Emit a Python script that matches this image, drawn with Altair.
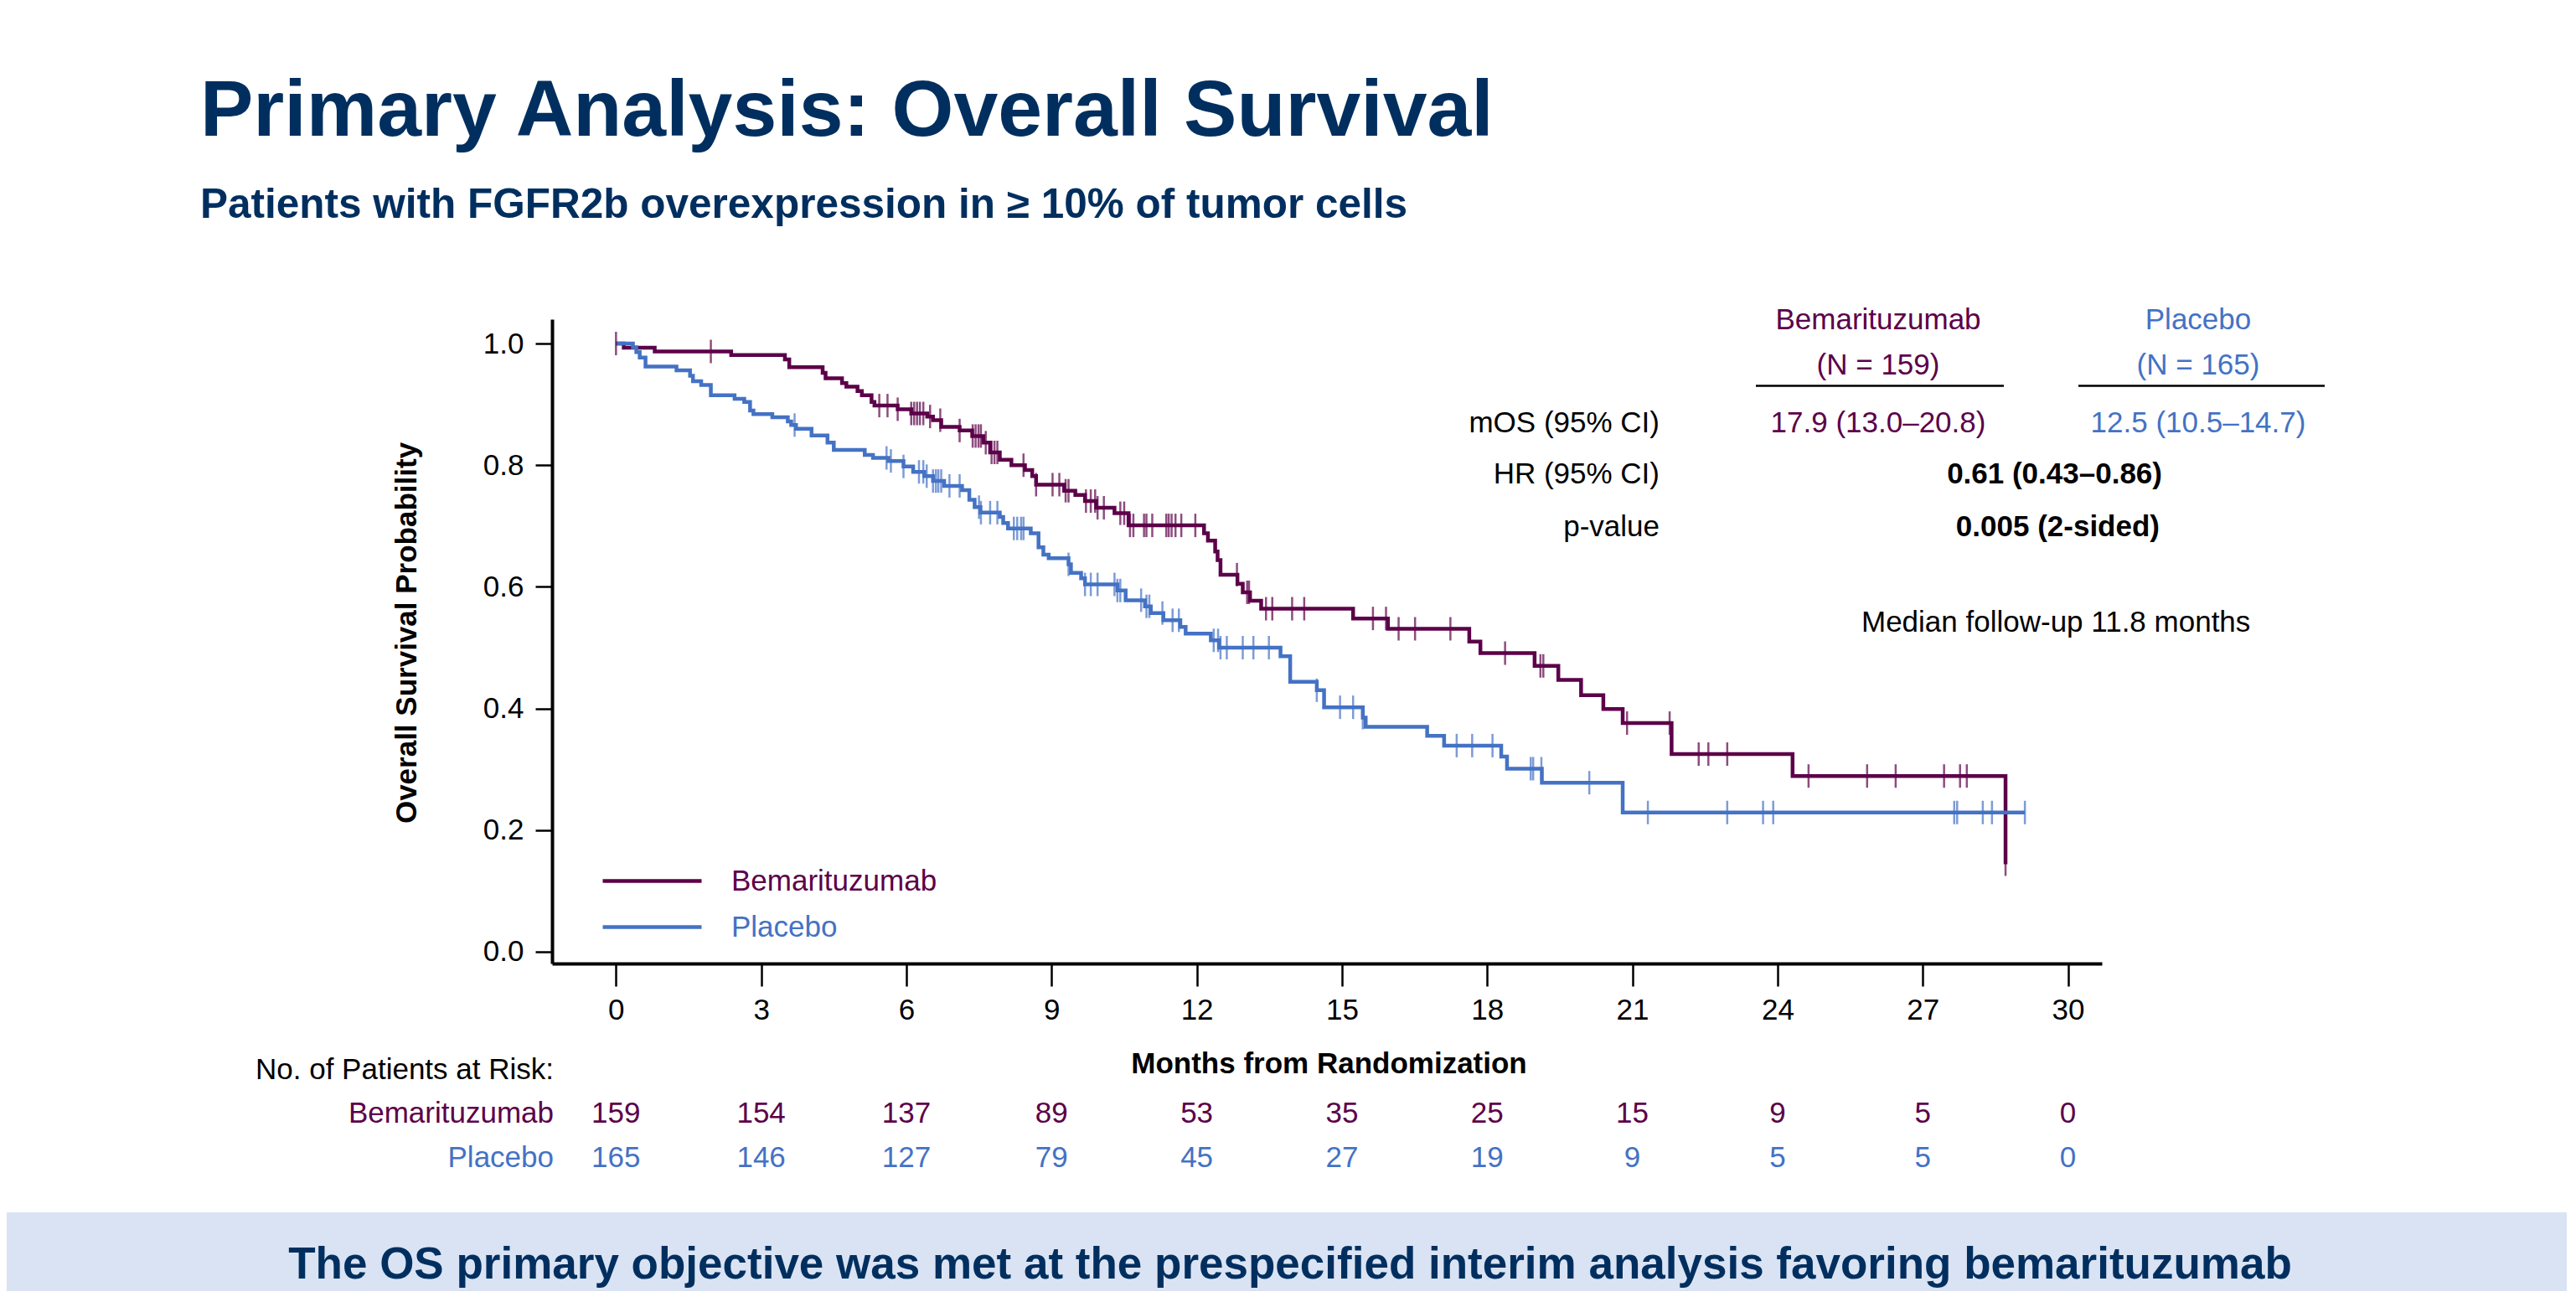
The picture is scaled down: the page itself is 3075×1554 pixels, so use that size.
import altair as alt
import pandas as pd

FONT = "Liberation Sans"
PURPLE = "#5C0049"
BLUE = "#4472C4"
NAVY = "#002F5F"
BANNER = "#DAE3F3"

ARMS = ["Bemarituzumab", "Placebo"]

# Kaplan-Meier step points (months, survival probability after the step)
bema_t = [0, 0.16, 0.80, 2.38, 3.49, 3.58, 4.27, 4.33, 4.67, 4.76, 4.99, 5.08, 5.28, 5.34,
          5.82, 6.10, 6.43, 6.55, 6.72, 7.10, 7.36, 7.59, 7.73, 7.93, 8.17, 8.45, 8.60, 8.68,
          9.26, 9.49, 9.69, 9.92, 10.30, 10.59, 12.15, 12.23, 12.38, 12.43, 12.49, 12.84, 12.95,
          13.10, 13.33, 15.23, 15.95, 17.63, 17.86, 18.98, 19.47, 19.94, 20.40, 20.80, 21.81,
          24.31, 28.71]
bema_s = [1.0, 0.993, 0.987, 0.981, 0.974, 0.961, 0.952, 0.943, 0.935, 0.929, 0.922, 0.915,
          0.904, 0.898, 0.892, 0.885, 0.880, 0.874, 0.863, 0.857, 0.848, 0.837, 0.821, 0.809,
          0.800, 0.792, 0.782, 0.768, 0.758, 0.751, 0.741, 0.730, 0.721, 0.701, 0.688, 0.676,
          0.658, 0.644, 0.620, 0.605, 0.591, 0.577, 0.564, 0.548, 0.531, 0.510, 0.491, 0.470,
          0.447, 0.422, 0.399, 0.376, 0.325, 0.289, 0.144]

plac_t = [0, 0.35, 0.42, 0.49, 0.61, 1.25, 1.53, 1.59, 1.76, 1.96, 2.45, 2.65, 2.77, 2.84,
          3.23, 3.55, 3.62, 3.72, 4.04, 4.37, 4.50, 5.14, 5.31, 5.63, 5.94, 6.14, 6.37, 6.55,
          6.78, 7.15, 7.30, 7.41, 7.53, 7.93, 8.00, 8.10, 8.57, 8.73, 8.83, 8.94, 9.35, 9.40,
          9.61, 9.69, 10.36, 10.53, 10.93, 11.05, 11.31, 11.66, 11.77, 12.29, 12.46, 13.73,
          13.93, 14.48, 14.63, 15.43, 15.49, 16.76, 17.11, 18.29, 18.41, 19.13, 20.80, 29.11]
plac_s = [1.0, 0.994, 0.986, 0.977, 0.962, 0.956, 0.947, 0.938, 0.932, 0.915, 0.909, 0.904,
          0.890, 0.884, 0.879, 0.872, 0.866, 0.860, 0.849, 0.837, 0.825, 0.817, 0.812, 0.807,
          0.798, 0.789, 0.782, 0.774, 0.766, 0.759, 0.743, 0.731, 0.722, 0.715, 0.705, 0.696,
          0.688, 0.665, 0.653, 0.647, 0.637, 0.623, 0.614, 0.604, 0.594, 0.578, 0.568, 0.557,
          0.545, 0.534, 0.523, 0.512, 0.500, 0.486, 0.444, 0.430, 0.402, 0.385, 0.370, 0.355,
          0.339, 0.321, 0.301, 0.278, 0.229, 0.229]

# Censoring times (months)
bema_c = [0.0, 1.96, 5.44, 5.61, 5.82, 6.10, 6.16, 6.22, 6.28, 6.35, 6.49, 6.70, 7.10, 7.37,
          7.43, 7.49, 7.54, 7.64, 7.76, 7.82, 7.88, 8.42, 8.68, 9.02, 9.16, 9.29, 9.35, 9.71,
          9.81, 9.90, 9.95, 10.08, 10.42, 10.50, 10.62, 10.69, 10.91, 10.96, 11.08, 11.37,
          11.42, 11.48, 11.56, 11.68, 11.97, 12.83, 13.04, 13.08, 13.43, 13.56, 13.97, 14.22,
          15.64, 15.91, 16.17, 16.51, 17.24, 18.37, 19.10, 19.16, 20.89, 21.77, 22.37, 22.57,
          22.96, 24.64, 25.85, 26.44, 27.44, 27.77, 27.91, 28.71]
plac_c = [3.69, 5.59, 5.68, 5.94, 6.26, 6.35, 6.42, 6.55, 6.61, 6.66, 6.72, 6.89, 7.10, 7.50,
          7.54, 7.73, 7.88, 8.22, 8.29, 8.37, 8.42, 9.35, 9.69, 9.81, 9.95, 10.30, 10.36, 10.42,
          10.85, 10.96, 11.02, 11.29, 11.50, 11.63, 12.35, 12.44, 12.49, 12.62, 12.95, 13.17,
          13.49, 14.48, 14.96, 15.23, 15.43, 17.37, 17.69, 18.11, 18.90, 18.95, 19.12, 20.11,
          21.32, 22.96, 23.70, 23.91, 27.65, 27.71, 28.24, 28.43, 29.11]

# Number at risk
risk_months = [0, 3, 6, 9, 12, 15, 18, 21, 24, 27, 30]
risk_bema = [159, 154, 137, 89, 53, 35, 25, 15, 9, 5, 0]
risk_plac = [165, 146, 127, 79, 45, 27, 19, 9, 5, 5, 0]

x_ticks = [0, 3, 6, 9, 12, 15, 18, 21, 24, 27, 30]
y_ticks = [0.0, 0.2, 0.4, 0.6, 0.8, 1.0]


def lookup(times, survs, t):
    v = survs[0]
    for tt, ss in zip(times, survs):
        if tt <= t + 1e-9:
            v = ss
        else:
            break
    return v


curve_df = pd.DataFrame(
    [{"arm": ARMS[0], "month": t, "surv": s} for t, s in zip(bema_t, bema_s)]
    + [{"arm": ARMS[1], "month": t, "surv": s} for t, s in zip(plac_t, plac_s)]
)
cens_df = pd.DataFrame(
    [{"arm": ARMS[0], "month": t, "surv": lookup(bema_t, bema_s, t)} for t in bema_c]
    + [{"arm": ARMS[1], "month": t, "surv": lookup(plac_t, plac_s, t)} for t in plac_c]
)
risk_b_df = pd.DataFrame({"month": risk_months, "n": [str(v) for v in risk_bema]})
risk_p_df = pd.DataFrame({"month": risk_months, "n": [str(v) for v in risk_plac]})

W, H = 1850, 769
FS = 35
x_scale = alt.Scale(domain=[-1.321, 30.70], nice=False, zero=False)
y_scale = alt.Scale(domain=[-0.0193, 1.040], nice=False, zero=False)
color_scale = alt.Scale(domain=ARMS, range=[PURPLE, BLUE])

x_axis = alt.Axis(values=x_ticks, format="d", title="Months from Randomization",
                  titleFontWeight="bold", titleFontSize=FS, titleX=927, titleY=130,
                  titleBaseline="alphabetic", titleAlign="center", labelFontSize=FS,
                  tickSize=27, tickWidth=2.5, domainWidth=4, labelPadding=11, grid=False,
                  labelColor="black", titleColor="black", tickColor="black",
                  domainColor="black", labelFlush=False)
y_axis = alt.Axis(values=y_ticks, format=".1f", title="Overall Survival Probability",
                  titleFontWeight="bold", titleFontSize=FS, titleX=-174, titleY=374,
                  titleBaseline="middle", titleAlign="center", labelFontSize=FS, tickSize=20,
                  tickWidth=2.5, domainWidth=4, labelPadding=14, grid=False, labelColor="black",
                  titleColor="black", tickColor="black", domainColor="black", labelFlush=False)

lines = alt.Chart(curve_df).mark_line(interpolate="step-after", strokeWidth=4.5).encode(
    x=alt.X("month:Q", scale=x_scale, axis=x_axis),
    y=alt.Y("surv:Q", scale=y_scale, axis=y_axis),
    color=alt.Color("arm:N", scale=color_scale, legend=alt.Legend(
        title=None, orient="none", legendX=102, legendY=653, symbolType="M-4,0H4",
        symbolSize=870, symbolStrokeWidth=4.5, labelFontSize=FS, labelFont=FONT,
        labelOffset=77, rowPadding=19, padding=0, labelLimit=0,
        labelColor={"expr": f"datum.label == 'Placebo' ? '{BLUE}' : '{PURPLE}'"})),
    order=alt.Order("month:Q"),
)

ticks = alt.Chart(cens_df).mark_tick(orient="vertical", size=28, thickness=2.5).encode(
    x=alt.X("month:Q", scale=x_scale),
    y=alt.Y("surv:Q", scale=y_scale),
    color=alt.Color("arm:N", scale=color_scale, legend=None),
)

dummy = alt.InlineData(values=[{"k": 0}])


def txt(s, x, y, size, color="black", weight="normal", align="left"):
    return alt.Chart(dummy).mark_text(
        text=s, fontSize=size, font=FONT, fontWeight=weight, color=color, align=align,
        baseline="alphabetic").encode(x=alt.value(x), y=alt.value(y))


def hrule(x1, x2, y):
    return alt.Chart(dummy).mark_rule(color="black", strokeWidth=2.5).encode(
        x=alt.value(x1), x2=alt.value(x2), y=alt.value(y))


banner = alt.Chart(dummy).mark_rect(color=BANNER).encode(
    x=alt.value(-651), x2=alt.value(2405), y=alt.value(1066), y2=alt.value(1160))

risk_b = alt.Chart(risk_b_df).mark_text(fontSize=FS, font=FONT, color=PURPLE, align="center",
                                        baseline="alphabetic").encode(
    x=alt.X("month:Q", scale=x_scale), y=alt.value(959), text="n:N")
risk_p = alt.Chart(risk_p_df).mark_text(fontSize=FS, font=FONT, color=BLUE, align="center",
                                        baseline="alphabetic").encode(
    x=alt.X("month:Q", scale=x_scale), y=alt.value(1012), text="n:N")

texts = [
    txt("Primary Analysis: Overall Survival", -420, -219, 95, NAVY, "bold"),
    txt("Patients with FGFR2b overexpression in \u2265 10% of tumor cells", -420, -121, 49.5, NAVY, "bold"),
    txt("Bemarituzumab", 1583, 12, FS, PURPLE, align="center"),
    txt("(N = 159)", 1583, 66, FS, PURPLE, align="center"),
    txt("Placebo", 1965, 12, FS, BLUE, align="center"),
    txt("(N = 165)", 1965, 66, FS, BLUE, align="center"),
    hrule(1437, 1733, 79.5),
    hrule(1822, 2116, 79.5),
    txt("mOS (95% CI)", 1322, 135, FS, align="right"),
    txt("HR (95% CI)", 1322, 196, FS, align="right"),
    txt("p-value", 1322, 259, FS, align="right"),
    txt("17.9 (13.0\u201320.8)", 1583, 135, FS, PURPLE, align="center"),
    txt("12.5 (10.5\u201314.7)", 1965, 135, FS, BLUE, align="center"),
    txt("0.61 (0.43\u20130.86)", 1922, 196, FS, "black", "bold", "right"),
    txt("0.005 (2-sided)", 1919, 259, FS, "black", "bold", "right"),
    txt("Median follow-up 11.8 months", 1563, 373, FS),
    txt("No. of Patients at Risk:", 2, 907, FS, align="right"),
    txt("Bemarituzumab", 2, 959, FS, PURPLE, align="right"),
    txt("Placebo", 2, 1012, FS, BLUE, align="right"),
    banner,
    txt("The OS primary objective was met at the prespecified interim analysis favoring bemarituzumab",
        881, 1145, 53, NAVY, "bold", "center"),
]

chart = alt.layer(lines, ticks, risk_b, risk_p, *texts).properties(
    width=W, height=H,
    padding={"left": 651, "top": 373, "right": 555, "bottom": 394},
    autosize=alt.AutoSizeParams(type="none"),
    background="white",
).configure_view(stroke=None).configure_axis(labelFont=FONT, titleFont=FONT).configure_legend(
    labelFont=FONT)

chart.save("out.html", embed_options={"renderer": "svg", "actions": False})
